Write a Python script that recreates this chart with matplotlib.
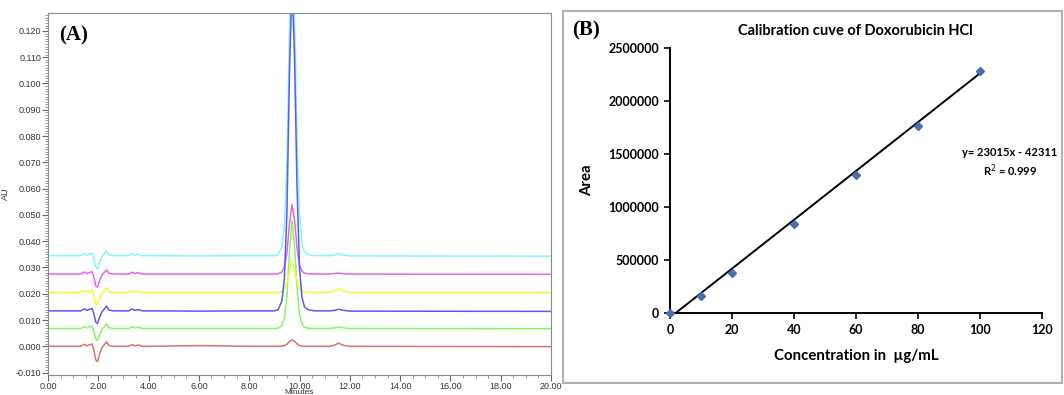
import numpy as np
import matplotlib
matplotlib.use("Agg")
import matplotlib.pyplot as plt
from matplotlib.patches import Rectangle
from matplotlib.ticker import MultipleLocator, FormatStrFormatter

# ---- (A) chromatograms, values (AU vs minutes)
t_min = [0.0, 1.3, 1.45, 1.55, 1.65, 1.75, 1.82, 1.9, 1.97, 2.05, 2.15, 2.25, 2.33, 2.42, 2.6,
         3.2, 3.35, 3.45, 3.6, 3.75, 4.0, 6.0, 8.0, 9.0,
         9.15, 9.3, 9.4, 9.5, 9.6, 9.7, 9.8, 9.9, 10.0, 10.1, 10.2, 10.35,
         10.6, 11.2, 11.4, 11.55, 11.75, 12.0, 20.0]

cyan_au = [0.0345, 0.0345, 0.0353, 0.0347, 0.0351, 0.0354, 0.0335, 0.0300, 0.0295, 0.0320, 0.0342, 0.0353, 0.0363, 0.0348, 0.0345,
           0.0345, 0.0352, 0.0347, 0.0350, 0.0345, 0.0345, 0.0344, 0.0345, 0.0345,
           0.0349, 0.0380, 0.0463, 0.0699, 0.1195, 0.1525, 0.1265, 0.0793, 0.0498, 0.0392, 0.0359, 0.0349,
           0.0345, 0.0345, 0.0348, 0.0353, 0.0347, 0.0344, 0.0343]
magenta_au = [0.0275, 0.0275, 0.0283, 0.0277, 0.0281, 0.0284, 0.0265, 0.0230, 0.0225, 0.0250, 0.0272, 0.0283, 0.0291, 0.0278, 0.0275,
              0.0275, 0.0282, 0.0277, 0.0280, 0.0275, 0.0275, 0.0275, 0.0275, 0.0275,
              0.0276, 0.0283, 0.0302, 0.0355, 0.0466, 0.0540, 0.0482, 0.0376, 0.0309, 0.0286, 0.0278, 0.0276,
              0.0275, 0.0275, 0.0277, 0.0279, 0.0276, 0.0275, 0.0274]
yellow_au = [0.0205, 0.0205, 0.0212, 0.0207, 0.0211, 0.0214, 0.0195, 0.0162, 0.0158, 0.0182, 0.0202, 0.0213, 0.0223, 0.0208, 0.0205,
             0.0205, 0.0211, 0.0207, 0.0209, 0.0205, 0.0205, 0.0205, 0.0205, 0.0205,
             0.0205, 0.0208, 0.0217, 0.0240, 0.0288, 0.0320, 0.0295, 0.0249, 0.0220, 0.0210, 0.0206, 0.0205,
             0.0205, 0.0205, 0.0211, 0.0220, 0.0210, 0.0205, 0.0205]
blue_au = [0.0135, 0.0135, 0.0143, 0.0137, 0.0141, 0.0144, 0.0125, 0.0092, 0.0087, 0.0110, 0.0132, 0.0143, 0.0153, 0.0138, 0.0135,
           0.0135, 0.0142, 0.0137, 0.0140, 0.0135, 0.0135, 0.0134, 0.0135, 0.0135,
           0.0139, 0.0173, 0.0260, 0.0510, 0.1035, 0.1385, 0.1110, 0.0610, 0.0298, 0.0185, 0.0150, 0.0139,
           0.0135, 0.0135, 0.0137, 0.0141, 0.0137, 0.0134, 0.0133]
green_au = [0.0068, 0.0068, 0.0075, 0.0070, 0.0074, 0.0077, 0.0058, 0.0028, 0.0022, 0.0043, 0.0065, 0.0076, 0.0085, 0.0071, 0.0068,
            0.0068, 0.0075, 0.0070, 0.0073, 0.0068, 0.0068, 0.0068, 0.0068, 0.0068,
            0.0069, 0.0080, 0.0109, 0.0191, 0.0363, 0.0478, 0.0388, 0.0224, 0.0121, 0.0084, 0.0073, 0.0069,
            0.0068, 0.0068, 0.0070, 0.0074, 0.0070, 0.0068, 0.0067]
red_au = [0.0, 0.0, 0.0008, 0.0002, 0.0006, 0.0009, -0.0012, -0.0052, -0.0058, -0.0030, -0.0004, 0.0008, 0.0017, 0.0003, 0.0,
          0.0, 0.0007, 0.0002, 0.0005, 0.0, 0.0, 0.0003, 0.0, 0.0,
          0.0, 0.0001, 0.0003, 0.0008, 0.0018, 0.0025, 0.0020, 0.0010, 0.0003, 0.0001, 0.0, 0.0,
          0.0, 0.0, 0.0005, 0.0012, 0.0004, 0.0, -0.0001]

# ---- (B) calibration curve
conc = [0, 10, 20, 40, 60, 80, 100]
area = [0, 165000, 380000, 835000, 1305000, 1760000, 2280000]
slope, intercept = 23015, -42311
fit_x = [0, 100]

fig = plt.figure(figsize=(10.64, 3.95), dpi=100)

# panel A
axA = fig.add_axes([0.0451, 0.0506, 0.4728, 0.9165])
traces = [(red_au, "#dd6f6f"), (green_au, "#8cf55c"), (yellow_au, "#f5f53a"),
          (magenta_au, "#e466e8"), (cyan_au, "#86f4f8"), (blue_au, "#5a5af0")]
for vals, col in traces:
    axA.plot(t_min, vals, color=col, lw=1.1)
axA.set_xlim(0, 20)
axA.set_ylim(-0.0109, 0.1268)
axA.xaxis.set_major_locator(MultipleLocator(2))
axA.xaxis.set_minor_locator(MultipleLocator(0.5))
axA.yaxis.set_major_locator(MultipleLocator(0.01))
axA.yaxis.set_minor_locator(MultipleLocator(0.001))
axA.xaxis.set_major_formatter(FormatStrFormatter("%.2f"))
axA.yaxis.set_major_formatter(FormatStrFormatter("%.3f"))
for s in axA.spines.values():
    s.set_color("#8a8a8a")
axA.tick_params(which="major", length=4, width=0.8, color="#666666", labelsize=6.5,
                labelcolor="#333333", pad=1)
axA.tick_params(which="minor", length=2, width=0.6, color="#888888")
for lab in axA.get_xticklabels() + axA.get_yticklabels():
    lab.set_family("Liberation Sans")
axA.set_xlabel("Minutes", fontsize=6, family="Liberation Sans", labelpad=-1.5, color="#333333")
axA.set_ylabel("AU", fontsize=6.5, family="Liberation Sans", labelpad=4, color="#333333")
axA.text(0.022, 0.965, "(A)", transform=axA.transAxes, ha="left", va="top",
         fontsize=15, fontweight="bold", family="Liberation Serif")

# panel B
fig.add_artist(Rectangle((563 / 1064, 1 - 383 / 395), (1062 - 563) / 1064, (383 - 11) / 395,
                         transform=fig.transFigure, fill=False, edgecolor="#b0b0b0", lw=1.5))
axB = fig.add_axes([0.6297, 0.2076, 0.3493, 0.6709])
axB.plot(fit_x, [slope * x + intercept for x in fit_x], color="black", lw=1.4)
axB.plot(conc, area, "D", color="#4a6cb3", ms=4.5, clip_on=False, zorder=3)
axB.set_xlim(0, 120)
axB.set_ylim(0, 2500000)
axB.set_xticks(range(0, 121, 20))
axB.set_yticks(range(0, 2500001, 500000))
axB.yaxis.set_major_formatter(FormatStrFormatter("%d"))
axB.spines["top"].set_visible(False)
axB.spines["right"].set_visible(False)
for s in ("left", "bottom"):
    axB.spines[s].set_linewidth(1.4)
axB.tick_params(length=4, width=1.2, labelsize=9, pad=4)
for lab in axB.get_xticklabels() + axB.get_yticklabels():
    lab.set_family("Lato")
    lab.set_fontweight("bold")
axB.set_xlabel("Concentration in  \u00b5g/mL", fontsize=10.8, fontweight="bold", family="Lato", labelpad=9)
axB.set_ylabel("Area", fontsize=10.8, fontweight="bold", family="Lato", labelpad=10)
axB.set_title("Calibration cuve of Doxorubicin HCl", fontsize=10.5, fontweight="bold", family="Lato", pad=9)
axB.text(0.915, 0.566, "y= 23015x - 42311\nR$^2$ = 0.999", transform=axB.transAxes, ha="center",
         va="center", fontsize=8, fontweight="bold", family="Lato", linespacing=1.3)
fig.text(572 / 1064, 1 - 30 / 395, "(B)", ha="left", va="center",
         fontsize=15, fontweight="bold", family="Liberation Serif")

fig.savefig("out.png", dpi=100)
